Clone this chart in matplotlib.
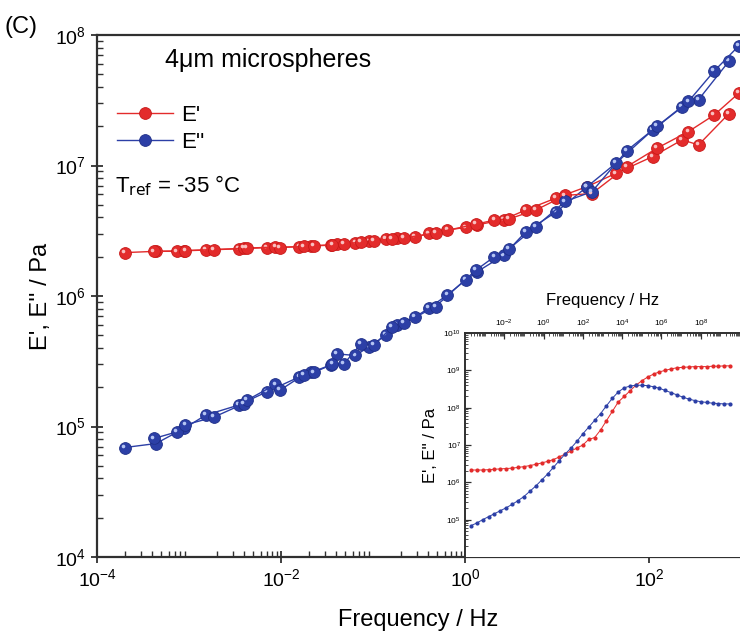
import numpy as np
import matplotlib
matplotlib.use("Agg")
import matplotlib.pyplot as plt
from matplotlib.ticker import LogLocator, NullFormatter, FixedLocator
from matplotlib.transforms import offset_copy

plt.rcParams['font.family'] = ['Liberation Sans', 'DejaVu Sans']
plt.rcParams['mathtext.default'] = 'regular'

# master curve, two interleaved sweeps (log10 frequency / Hz)
logf_a = [-3.70, -3.36, -3.05, -2.82, -2.46, -2.15, -1.80, -1.67, -1.46, -1.39, -1.19,
          -1.04, -0.86, -0.74, -0.54, -0.39, -0.19, 0.01, 0.13, 0.42, 0.66, 0.99,
          1.33, 1.64, 2.04, 2.36, 2.54, 2.87]
Ep_a = [2.15e6, 2.2e6, 2.22e6, 2.25e6, 2.3e6, 2.35e6, 2.39e6, 2.42e6, 2.45e6, 2.5e6, 2.56e6,
        2.62e6, 2.72e6, 2.76e6, 2.82e6, 3.02e6, 3.2e6, 3.36e6, 3.5e6, 3.85e6, 4.56e6, 5.63e6,
        6.9e6, 8.7e6, 1.17e7, 1.57e7, 1.44e7, 2.5e7]
Epp_a = [6.9e4, 7.4e4, 9.7e4, 1.22e5, 1.46e5, 1.85e5, 2.4e5, 2.6e5, 2.96e5, 3.6e5, 3.5e5,
         4.1e5, 5.0e5, 6.0e5, 6.9e5, 8.1e5, 1.02e6, 1.33e6, 1.53e6, 2.05e6, 3.1e6, 4.4e6,
         6.9e6, 1.04e7, 1.87e7, 2.8e7, 3.2e7, 6.3e7]

logf_b = [-3.38, -3.13, -3.04, -2.73, -2.40, -2.37, -2.06, -2.01, -1.75, -1.64, -1.44,
          -1.32, -1.13, -0.99, -0.79, -0.66, -0.32, 0.12, 0.32, 0.48, 0.77, 1.09,
          1.38, 1.76, 2.09, 2.43, 2.71, 2.98]
Ep_b = [2.2e6, 2.2e6, 2.23e6, 2.27e6, 2.32e6, 2.33e6, 2.37e6, 2.35e6, 2.4e6, 2.43e6, 2.47e6,
        2.52e6, 2.58e6, 2.65e6, 2.74e6, 2.78e6, 3.05e6, 3.55e6, 3.82e6, 3.9e6, 4.56e6, 5.9e6,
        6.1e6, 9.8e6, 1.36e7, 1.82e7, 2.44e7, 3.6e7]
Epp_b = [8.1e4, 9.1e4, 1.03e5, 1.18e5, 1.5e5, 1.59e5, 2.1e5, 1.9e5, 2.5e5, 2.6e5, 3.0e5,
         3.0e5, 4.3e5, 4.2e5, 5.8e5, 6.2e5, 8.3e5, 1.58e6, 2.0e6, 2.3e6, 3.4e6, 5.3e6,
         6.3e6, 1.3e7, 2.0e7, 3.1e7, 5.3e7, 8.3e7]

# inset: full master curve (log10 values)
ins_logf = [-3.7, -3.4, -3.1, -2.8, -2.5, -2.2, -1.9, -1.6, -1.3, -1.0, -0.7, -0.4, -0.1,
            0.2, 0.5, 0.8, 1.1, 1.4, 1.7, 2.0, 2.3, 2.6, 2.9, 3.2, 3.5, 3.8, 4.1, 4.4,
            4.7, 5.0, 5.3, 5.6, 5.9, 6.2, 6.5, 6.8, 7.1, 7.4, 7.7, 8.0, 8.3, 8.6, 8.9, 9.2, 9.5]
ins_logEp = [6.33, 6.33, 6.33, 6.34, 6.35, 6.36, 6.37, 6.38, 6.40, 6.42, 6.45, 6.48, 6.52,
             6.56, 6.61, 6.68, 6.76, 6.84, 6.92, 7.0, 7.15, 7.2, 7.4, 7.65, 7.9, 8.15, 8.3, 8.45,
             8.6, 8.72, 8.82, 8.9, 8.96, 9.0, 9.04, 9.07, 9.08, 9.09, 9.1, 9.1, 9.1, 9.11, 9.11, 9.12, 9.12]
ins_logEpp = [4.84, 4.91, 5.0, 5.08, 5.16, 5.24, 5.32, 5.41, 5.51, 5.62, 5.76, 5.9, 6.06,
              6.22, 6.4, 6.58, 6.76, 6.92, 7.1, 7.3, 7.48, 7.66, 7.84, 8.05, 8.25, 8.42, 8.53, 8.58,
              8.6, 8.6, 8.59, 8.56, 8.52, 8.46, 8.4, 8.34, 8.28, 8.23, 8.19, 8.16, 8.14, 8.12, 8.11, 8.1, 8.1]

red = '#e32b2b'
blue = '#2c3fa6'
red_hl = '#f9c0c0'
blue_hl = '#b5c5f3'
spine_c = '#303030'

fig = plt.figure(figsize=(7.4, 6.34), dpi=100)
ax = fig.add_axes([97 / 740, 77 / 634, 643 / 740, 522 / 634])

# small light dot up-left of each ball gives the shaded look
hl_tr = offset_copy(ax.transData, fig=fig, x=-1.3, y=1.3, units='points')
for lf, e1, e2 in [(logf_a, Ep_a, Epp_a), (logf_b, Ep_b, Epp_b)]:
    f = 10 ** np.array(lf)
    ax.plot(f, e1, '-o', color=red, lw=1.0, ms=8.5, mec='#c81818', mew=0.6)
    ax.plot(f, e2, '-o', color=blue, lw=1.0, ms=8.5, mec='#1f2f88', mew=0.6)
    ax.plot(f, e1, 'o', color=red_hl, ms=2.6, mew=0, transform=hl_tr)
    ax.plot(f, e2, 'o', color=blue_hl, ms=2.6, mew=0, transform=hl_tr)

ax.set_xscale('log')
ax.set_yscale('log')
ax.set_xlim(1e-4, 10 ** 2.99)
ax.set_ylim(1e4, 1e8)
ax.xaxis.set_major_locator(FixedLocator([1e-4, 1e-2, 1e0, 1e2]))
ax.xaxis.set_minor_locator(LogLocator(base=10, subs=np.arange(2, 10), numticks=20))
ax.yaxis.set_minor_locator(LogLocator(base=10, subs=np.arange(2, 10), numticks=20))
ax.xaxis.set_minor_formatter(NullFormatter())
ax.yaxis.set_minor_formatter(NullFormatter())
ax.tick_params(which='major', direction='inout', length=9, width=1.3, labelsize=14, color=spine_c)
ax.tick_params(which='minor', direction='in', length=4, width=1.0, color=spine_c)
ax.tick_params(top=False, right=False, which='both')
ax.spines['right'].set_visible(False)
for s in ['left', 'bottom', 'top']:
    ax.spines[s].set_linewidth(1.6)
    ax.spines[s].set_color(spine_c)

ax.set_xlabel('Frequency / Hz', fontsize=17, labelpad=14)
ax.set_ylabel("E', E'' / Pa", fontsize=17, labelpad=2)

# legend
h1, = ax.plot([], [], '-o', color=red, lw=1.0, ms=8.5, mec='#c81818', mew=0.6)
h2, = ax.plot([], [], '-o', color=blue, lw=1.0, ms=8.5, mec='#1f2f88', mew=0.6)
ax.legend([h1, h2], ["E'", "E''"], loc='upper left', bbox_to_anchor=(0.0, 0.905),
          frameon=False, fontsize=16, handlelength=2.5, handletextpad=0.4, labelspacing=0.3)

ax.text(0.106, 0.952, '4μm microspheres', transform=ax.transAxes, fontsize=18,
        ha='left', va='center')
ax.text(0.028, 0.712, r'T$_{\rm ref}$ = -35 °C', transform=ax.transAxes, fontsize=16,
        ha='left', va='center')
fig.text(0.006, 0.958, '(C)', fontsize=17, ha='left', va='center')

# inset
ins = fig.add_axes([465 / 740, 77 / 634, 275 / 740, 224 / 634])
ins.plot(10 ** np.array(ins_logf), 10 ** np.array(ins_logEp), '-o', color=red, lw=0.7, ms=3.0, mew=0)
ins.plot(10 ** np.array(ins_logf), 10 ** np.array(ins_logEpp), '-o', color=blue, lw=0.7, ms=3.0, mew=0)
ins.set_xscale('log')
ins.set_yscale('log')
ins.set_xlim(1e-4, 1e10)
ins.set_ylim(1e4, 1e10)
ins.xaxis.tick_top()
ins.xaxis.set_label_position('top')
ins.xaxis.set_major_locator(FixedLocator([1e-2, 1e0, 1e2, 1e4, 1e6, 1e8]))
ins.xaxis.set_minor_locator(LogLocator(base=10, subs=np.arange(1, 10), numticks=40))
ins.yaxis.set_major_locator(FixedLocator([1e5, 1e6, 1e7, 1e8, 1e9, 1e10]))
ins.yaxis.set_minor_locator(LogLocator(base=10, subs=np.arange(2, 10), numticks=40))
ins.xaxis.set_minor_formatter(NullFormatter())
ins.yaxis.set_minor_formatter(NullFormatter())
ins.tick_params(which='major', direction='in', length=4, width=0.9, labelsize=6, pad=3, color=spine_c)
ins.tick_params(which='minor', direction='in', length=2, width=0.6, color=spine_c)
ins.spines['right'].set_visible(False)
ins.spines['bottom'].set_visible(False)
for s in ['left', 'top']:
    ins.spines[s].set_linewidth(1.4)
    ins.spines[s].set_color(spine_c)
ins.set_xlabel('Frequency / Hz', fontsize=12, labelpad=9)
ins.set_ylabel("E', E'' / Pa", fontsize=12, labelpad=4)

fig.savefig('out.png', dpi=100)
